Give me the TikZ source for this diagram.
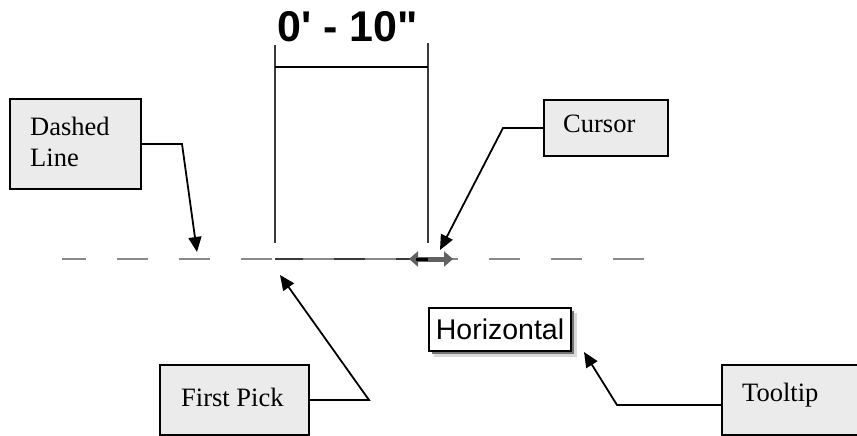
\documentclass[tikz,border=0pt]{standalone}
\usepackage{fontspec}
\setmainfont{Liberation Serif}
\newfontfamily\dimfont[Ligatures=TeXOff]{Liberation Sans}
\usetikzlibrary{arrows.meta}
\definecolor{boxgray}{HTML}{EBEBEB}
\definecolor{dashgray}{HTML}{8A8A8A}
\definecolor{darkline}{HTML}{3A3A3A}
\begin{document}
\begin{tikzpicture}[x=1pt,y=-1pt,
  callout/.style={draw=black, line width=2pt, fill=boxgray, rectangle, inner sep=0pt, anchor=north west},
  lbl/.style={font=\fontsize{26.5}{30.5}\selectfont, inner sep=0pt, anchor=base west},
  conn/.style={line width=1.8pt, -{Triangle[length=15pt,width=13pt]}, line join=miter},
  extline/.style={draw=darkline, line width=2pt}]
\useasboundingbox (0,0) rectangle (857,436);
\clip (0,0) rectangle (857,436);
% dimension
\node[font=\dimfont\bfseries\fontsize{43}{43}\selectfont, anchor=base west, inner sep=0pt] (dim) at (277,42) {0' - 10"};
\coordinate (lt) at (275,45);
\coordinate (lb) at (275,243);
\coordinate (rt) at (428,43);
\coordinate (rb) at (428,243);
\draw[extline] (lt) -- (lb);
\draw[extline] (rt) -- (rb);
\draw[line width=1.6pt, black] (275,67) -- (428,67);
% rubber-band line and dashed reference line
\draw[darkline, line width=2.6pt] (275,259) -- (410,259);
\draw[dashgray, line width=2.6pt, dash pattern=on 31pt off 31pt, dash phase=7pt] (62,259) -- (645,259);
% cursor icon
\draw[line width=5pt, color=black!62, {Triangle[length=9pt,width=15pt]}-{Triangle[length=9pt,width=15pt]}] (409,259) -- (453,259);
\draw[line width=3pt, black] (416,259) -- (428,259);
% Horizontal tooltip
\fill[black!25, opacity=0.6] (434,313) rectangle (577,357);
\fill[black!55] (432,311) rectangle (574,354);
\node[draw=black, line width=2pt, fill=white, inner sep=0pt, minimum width=142pt, minimum height=43pt, anchor=north west,
  font=\dimfont\fontsize{28.5}{28.5}\selectfont] (hz) at (428,307) {Horizontal};
% callout boxes
\node[callout, minimum width=131pt, minimum height=90pt] (dl) at (9,98) {};
\node[lbl] (dlt1) at (30,135) {Dashed};
\node[lbl] (dlt2) at (30,166) {Line};
\node[callout, minimum width=124pt, minimum height=56pt] (cu) at (543,99) {};
\node[lbl] (cut) at (563,132) {Cursor};
\node[callout, minimum width=149pt, minimum height=70pt] (fp) at (159,364) {};
\node[lbl] (fpt) at (181,406) {First Pick};
\node[callout, minimum width=160pt, minimum height=70pt] (tt) at (721,364) {};
\node[lbl] (ttt) at (742,401) {Tooltip};
% connectors
\coordinate (dlTip) at (197,252);
\coordinate (cuTip) at (440,250);
\coordinate (fpTip) at (280,275);
\coordinate (ttTip) at (584,352);
\draw[conn] (dl.east) -- ++(40,0) -- (dlTip);
\draw[conn] (cu.west) -- ++(-40,0) -- (cuTip);
\draw[conn] (fp.east) -- ++(59,0) -- (fpTip);
\draw[conn] ([yshift=-5pt]tt.west) -- ++(-104,0) -- (ttTip);
\end{tikzpicture}
\end{document}
